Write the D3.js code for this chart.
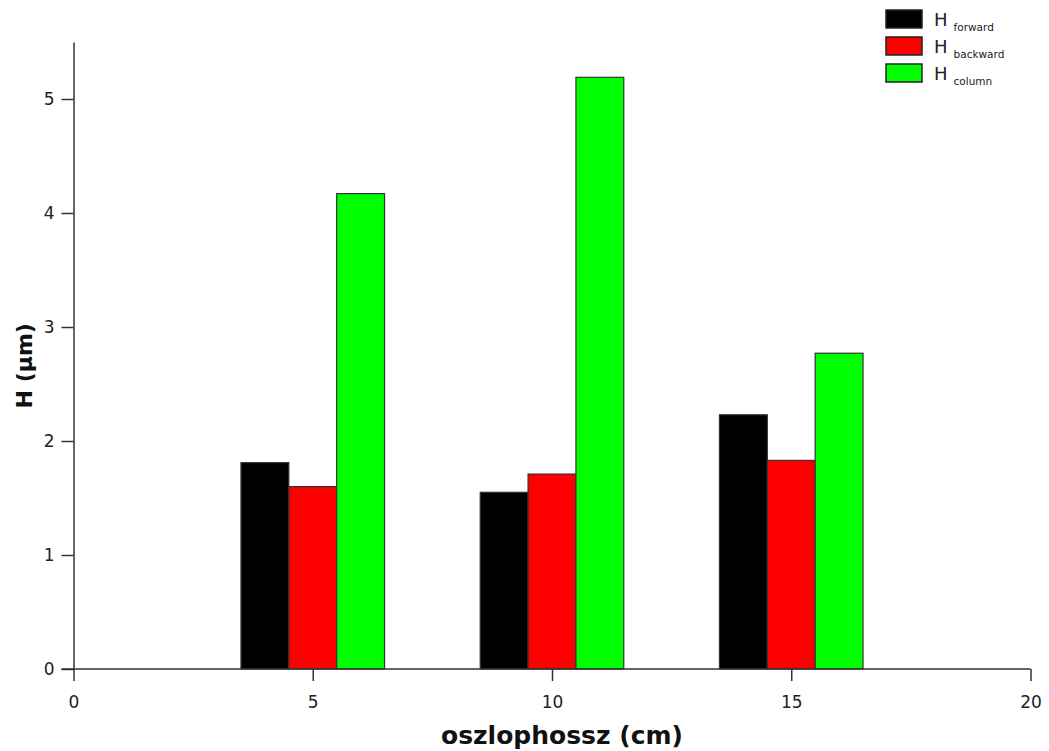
<!DOCTYPE html>
<html>
<head>
<meta charset="utf-8">
<script src="https://cdn.jsdelivr.net/npm/d3@7"></script>
<style>
  body { margin: 0; background: #fff; }
  svg { display: block; font-family: "DejaVu Sans", Verdana, sans-serif; }
</style>
</head>
<body>
<svg id="chart" width="1049" height="751"></svg>
<script>
// Column lengths (cm) and plate heights (µm)
const lengths = [5, 10, 15];
const hForward = [1.81, 1.55, 2.23];
const hBackward = [1.60, 1.71, 1.83];
const hColumn = [4.17, 5.19, 2.77];
const seriesNames = ["forward", "backward", "column"];
const seriesColors = ["#000000", "#ff0000", "#00ff00"];
const xTicks = [0, 5, 10, 15, 20];
const yTicks = [0, 1, 2, 3, 4, 5];

const series = [hForward, hBackward, hColumn];
const offsets = [-1, 0, 1]; // bar centre offset from the length value, in cm
const barWidth = 1;          // bar width in cm

const svg = d3.select("#chart");
const m = { left: 73.5, right: 1030.5, top: 42, bottom: 669 };

const x = d3.scaleLinear().domain([0, 20]).range([m.left, m.right]);
const y = d3.scaleLinear().domain([0, 5.5]).range([m.bottom, m.top]);

// Bars
series.forEach((vals, si) => {
  svg.append("g")
    .selectAll("rect")
    .data(lengths.map((l, i) => ({ l, v: vals[i] })))
    .join("rect")
    .attr("x", d => x(d.l + offsets[si] - barWidth / 2))
    .attr("width", d => x(d.l + offsets[si] + barWidth / 2) - x(d.l + offsets[si] - barWidth / 2))
    .attr("y", d => y(d.v))
    .attr("height", d => y(0) - y(d.v))
    .attr("fill", seriesColors[si])
    .attr("stroke", "#333")
    .attr("stroke-width", 1.2);
});

// Axes
const axisColor = "#333";
const yAxis = svg.append("g")
  .attr("transform", `translate(${m.left},0)`)
  .call(d3.axisLeft(y).tickValues(yTicks).tickFormat(d3.format("d"))
    .tickSize(12).tickSizeOuter(0).tickPadding(7));
const xAxis = svg.append("g")
  .attr("transform", `translate(0,${m.bottom})`)
  .call(d3.axisBottom(x).tickValues(xTicks).tickFormat(d3.format("d"))
    .tickSize(12).tickSizeOuter(0).tickPadding(15));

[yAxis, xAxis].forEach(g => {
  g.select(".domain").attr("stroke", axisColor).attr("stroke-width", 1.5);
  g.selectAll(".tick line").attr("stroke", axisColor).attr("stroke-width", 1.5);
  g.selectAll(".tick text").attr("fill", "#222").style("font-size", "17px")
    .style("font-family", "DejaVu Sans, Verdana, sans-serif");
});
// extend x axis line slightly left of the origin
xAxis.select(".domain").attr("d", `M${m.left - 12},0H${m.right}`);

// Axis titles
svg.append("text")
  .attr("x", x(10) + 10)
  .attr("y", 744)
  .attr("text-anchor", "middle")
  .style("font-size", "25px")
  .style("font-weight", "bold")
  .attr("fill", "#111")
  .text("oszlophossz (cm)");

svg.append("text")
  .attr("transform", `translate(32,${y(2.66)}) rotate(-90)`)
  .attr("text-anchor", "middle")
  .style("font-size", "22px")
  .style("font-weight", "bold")
  .attr("fill", "#111")
  .text("H (µm)");

// Legend
const legend = svg.append("g").attr("transform", "translate(886,10)");
seriesNames.forEach((name, i) => {
  const row = legend.append("g").attr("transform", `translate(0,${i * 27})`);
  row.append("rect")
    .attr("width", 36).attr("height", 18)
    .attr("fill", seriesColors[i])
    .attr("stroke", "#222").attr("stroke-width", 1.5);
  const t = row.append("text")
    .attr("x", 48).attr("y", 16)
    .attr("fill", "#222");
  t.append("tspan").style("font-size", "18px").text("H");
  t.append("tspan").attr("dx", 6).attr("dy", 5).style("font-size", "10.5px").text(name);
});
</script>
</body>
</html>
